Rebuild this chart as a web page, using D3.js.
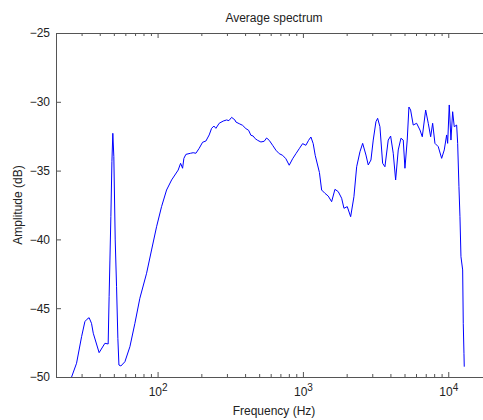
<!DOCTYPE html>
<html>
<head>
<meta charset="utf-8">
<script src="https://cdn.jsdelivr.net/npm/d3@7"></script>
<style>
  body { margin: 0; background: #fff; }
  svg { display: block; font-family: "Liberation Sans", Arial, sans-serif; }
  .axis path, .axis line { stroke: #555; }
  .axis text { fill: #222; font-size: 11px; }
</style>
</head>
<body>
<div id="viz-container"></div>
<script>
// frequency (Hz) and amplitude (dB)
const freqHz = [
  25.6, 27.7, 30.0, 31.6, 32.6, 33.8, 35.1, 36.1, 39.6, 43.4,
  45.7, 46.4, 47.0, 47.7, 48.5, 49.2, 50.0, 51.1, 52.2, 53.3,
  54.2, 55.9, 59.6, 64.5, 69.8, 75.5, 84.0, 90.9, 98.4, 106.5,
  115.3, 124.9, 138.6, 144.0, 148.6, 151.7, 156.6, 168.7, 175.8, 183.5,
  193.3, 204.0, 215.0, 226.5, 235.3, 244.1, 251.9, 265.4, 282.8, 298.5,
  309.5, 323.2, 340.4, 345.8, 364.4, 384.6, 405.3, 422.9, 438.6, 454.9,
  469.6, 487.8, 513.9, 541.5, 562.5, 586.3, 618.8, 652.1, 687.0, 725.2,
  763.8, 804.8, 849.5, 894.9, 943.0, 995.2, 1048, 1094, 1135, 1177,
  1215, 1299, 1345, 1417, 1493, 1576, 1661, 1750, 1847, 1916,
  2019, 2130, 2244, 2343, 2469, 2577, 2715, 2815, 2938, 3047,
  3180, 3267, 3388, 3536, 3667, 3864, 4014, 4183, 4345, 4528,
  4726, 4901, 5035, 5221, 5363, 5509, 5741, 6058, 6388, 6626,
  6992, 7286, 7568, 7810, 8100, 8535, 9006, 9387, 9750, 9906,
  10160, 10437, 10722, 10998, 11424, 11608, 11848, 12038, 12231, 12564,
  12684, 12825, 12887
];
const amplitudeDb = [
  -50.0, -49.0, -47.07, -45.98, -45.81, -45.69, -46.1, -46.82, -48.23, -47.55,
  -47.6, -44.16, -41.5, -38.35, -34.35, -32.29, -33.99, -40.04, -43.44, -47.19,
  -49.13, -49.2, -48.89, -47.8, -46.1, -44.28, -42.46, -40.77, -39.08, -37.62,
  -36.41, -35.68, -34.96, -34.47, -34.83, -34.11, -33.82, -33.74, -33.7, -33.74,
  -33.38, -32.94, -32.85, -32.41, -31.93, -31.76, -31.93, -31.56, -31.4, -31.32,
  -31.37, -31.13, -31.32, -31.47, -31.59, -31.71, -31.95, -32.07, -32.43, -32.49,
  -32.68, -32.8, -32.92, -32.87, -32.63, -32.8, -33.16, -33.52, -33.77, -33.89,
  -34.14, -34.61, -34.14, -33.77, -33.41, -33.04, -33.16, -32.8, -32.56, -33.04,
  -33.89, -35.14, -36.41, -36.65, -36.85, -37.26, -36.36, -36.53, -37.01, -37.74,
  -37.62, -38.35, -36.9, -34.72, -33.63, -33.02, -33.87, -34.59, -34.23, -32.78,
  -31.45, -31.2, -31.81, -34.47, -34.72, -32.78, -32.49, -33.74, -35.68, -33.5,
  -32.65, -32.78, -34.83, -32.78, -30.38, -30.6, -31.69, -31.56, -32.05, -32.54,
  -30.6, -31.56, -32.54, -31.56, -33.02, -33.26, -34.11, -33.5, -32.41, -33.02,
  -30.23, -32.78, -30.72, -31.81, -31.69, -33.02, -36.17, -38.35, -41.26, -42.22,
  -46.1, -48.28, -49.25
];
const xDomain = [20, 20000];
const yDomain = [-50, -25];
const xMajorTicks = [100, 1000, 10000];
const xMinorTicks = [20, 30, 40, 50, 60, 70, 80, 90, 200, 300, 400, 500, 600, 700, 800, 900,
  2000, 3000, 4000, 5000, 6000, 7000, 8000, 9000, 20000];
const xTickExponents = ["2", "3", "4"];
const yTicks = [-50, -45, -40, -35, -30, -25];

const width = 483;
const height = 420;
const margin = { top: 33, right: -9, bottom: 43, left: 56 };

const svg = d3
  .select("#viz-container")
  .append("svg")
  .attr("width", width)
  .attr("height", height);

const x = d3.scaleLog().domain(xDomain).range([margin.left, width - margin.right]);
const y = d3.scaleLinear().domain(yDomain).range([height - margin.bottom, margin.top]);

const plotW = width - margin.right - margin.left;
const plotH = height - margin.bottom - margin.top;

// bottom axis: major ticks with 10^n labels
const bottom = svg
  .append("g")
  .attr("class", "axis")
  .attr("transform", `translate(0,${y(yDomain[0])})`)
  .call(d3.axisBottom(x).tickValues(xMajorTicks).tickSize(-5).tickSizeOuter(0).tickPadding(10));

bottom.selectAll(".tick text").each(function (d, i) {
  const t = d3.select(this).text("").attr("dy", "0.71em").style("font-size", "12px");
  t.append("tspan").text("10");
  t.append("tspan").attr("dy", "-0.45em").style("font-size", "10px").text(xTickExponents[i]);
});

// minor ticks bottom
svg
  .append("g")
  .attr("class", "axis")
  .attr("transform", `translate(0,${y(yDomain[0])})`)
  .call(d3.axisBottom(x).tickValues(xMinorTicks).tickSize(-3).tickSizeOuter(0).tickFormat(""))
  .select(".domain")
  .remove();

// top axis (box)
svg
  .append("g")
  .attr("class", "axis")
  .attr("transform", `translate(0,${y(yDomain[1])})`)
  .call(d3.axisTop(x).tickValues(xMajorTicks).tickSize(-5).tickSizeOuter(0).tickFormat(""));
svg
  .append("g")
  .attr("class", "axis")
  .attr("transform", `translate(0,${y(yDomain[1])})`)
  .call(d3.axisTop(x).tickValues(xMinorTicks).tickSize(-3).tickSizeOuter(0).tickFormat(""))
  .select(".domain")
  .remove();

// left axis
svg
  .append("g")
  .attr("class", "axis")
  .attr("transform", `translate(${x(xDomain[0])},0)`)
  .call(d3.axisLeft(y).tickValues(yTicks).tickSize(-5).tickSizeOuter(0).tickPadding(6).tickFormat(d3.format("d")))
  .selectAll(".tick text")
  .style("font-size", "12px");

// right axis (mostly off-screen)
svg
  .append("g")
  .attr("class", "axis")
  .attr("transform", `translate(${x(xDomain[1])},0)`)
  .call(d3.axisRight(y).tickValues(yTicks).tickSize(-5).tickSizeOuter(0).tickFormat(""));

const data = freqHz.map((f, i) => ({ f: f, db: amplitudeDb[i] }));

const line = d3
  .line()
  .x((d) => x(d.f))
  .y((d) => y(d.db));

svg
  .append("path")
  .datum(data)
  .attr("fill", "none")
  .attr("stroke", "#0000ff")
  .attr("stroke-width", 1)
  .attr("d", line);

// titles
const cx = margin.left + plotW / 2;
svg
  .append("text")
  .attr("x", cx)
  .attr("y", 22)
  .attr("text-anchor", "middle")
  .attr("fill", "#222")
  .style("font-size", "12px")
  .text("Average spectrum");

svg
  .append("text")
  .attr("x", cx)
  .attr("y", 415)
  .attr("text-anchor", "middle")
  .attr("fill", "#222")
  .style("font-size", "12px")
  .text("Frequency (Hz)");

svg
  .append("text")
  .attr("transform", `translate(22,${margin.top + plotH / 2}) rotate(-90)`)
  .attr("text-anchor", "middle")
  .attr("fill", "#222")
  .style("font-size", "12px")
  .text("Amplitude (dB)");
</script>
</body>
</html>
